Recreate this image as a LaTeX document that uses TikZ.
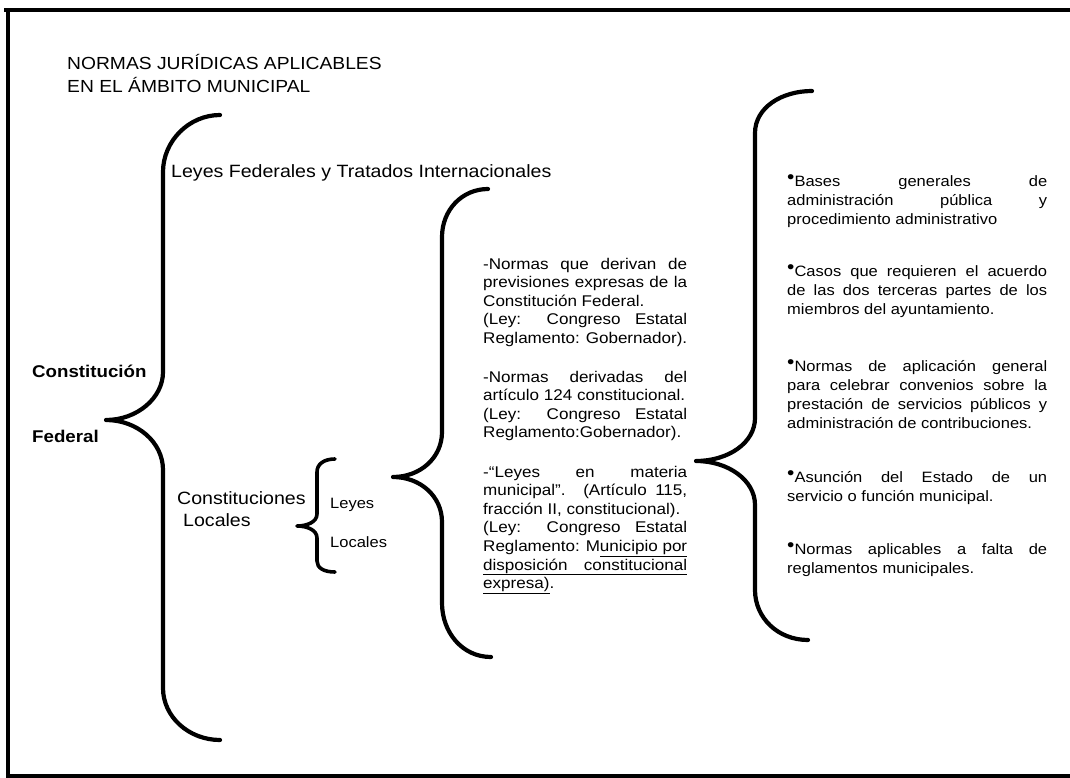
\documentclass[tikz,border=0pt]{standalone}
\usepackage{fontspec}
\setmainfont{Liberation Sans}[FakeStretch=1.1]
\newcommand{\bul}{\raisebox{2.8pt}{\fontsize{19}{19}\selectfont •}}
\begin{document}
\begin{tikzpicture}[x=1pt,y=-1pt,
  brace/.style={line width=4.2pt, line cap=round, line join=round},
  frameline/.style={line width=3.2pt},
  lbl/.style={inner sep=0pt, anchor=base west},
  tfont/.style={font=\fontsize{17.5}{23}\selectfont},
  bigfont/.style={font=\fontsize{17.8}{21}\selectfont},
  boldfont/.style={font=\fontsize{17}{20}\selectfont\bfseries},
  smallfont/.style={font=\fontsize{15}{18}\selectfont},
  midpara/.style={inner sep=0pt, anchor=base west, text width=204pt, align=justify, font=\fontsize{15.5}{18.6}\selectfont},
  rightpara/.style={inner sep=0pt, anchor=base west, text width=260pt, align=justify, font=\fontsize{15}{19}\selectfont}]
\useasboundingbox (0,0) rectangle (1070,778);
% frame
\coordinate (F1) at (4,10);
\coordinate (F2) at (1070,10);
\coordinate (F3) at (8,10);
\coordinate (F4) at (8,778);
\coordinate (F5) at (8,776);
\coordinate (F6) at (1070,776);
\draw[frameline] (F1) -- (F2);
\draw[frameline] (F3) -- (F4);
\draw[frameline] (F5) -- (F6);
% title
\node[lbl, tfont] (t1) at (67,70) {NORMAS JURÍDICAS APLICABLES};
\node[lbl, tfont] (t2) at (67,93) {EN EL ÁMBITO MUNICIPAL};
% left labels
\node[lbl, boldfont] (cons) at (32,377) {Constitución};
\node[lbl, boldfont] (fed) at (32,442) {Federal};
% big brace
\coordinate (A1) at (220,115);
\coordinate (A2) at (163,172);
\coordinate (A3) at (163,372);
\coordinate (A4) at (106,420);
\coordinate (A5) at (163,470);
\coordinate (A6) at (163,688);
\coordinate (A7) at (220,740);
\draw[brace] (A1) .. controls (189,115) and (163,141) .. (A2) -- (A3)
  .. controls (163,398) and (137,420) .. (A4)
  .. controls (137,420) and (163,442) .. (A5) -- (A6)
  .. controls (163,717) and (189,740) .. (A7);
\node[lbl, bigfont] (leyfed) at (171,178) {Leyes Federales y Tratados Internacionales};
\node[lbl, bigfont] (conloc1) at (177,504) {Constituciones};
\node[lbl, bigfont] (conloc2) at (183,526) {Locales};
% small brace
\coordinate (B1) at (335,459);
\coordinate (B2) at (317,472);
\coordinate (B3) at (317,514);
\coordinate (B4) at (297,526);
\coordinate (B5) at (317,538);
\coordinate (B6) at (317,561);
\coordinate (B7) at (335,572);
\draw[brace, line width=3.6pt] (B1) .. controls (324,459) and (317,464) .. (B2) -- (B3)
  .. controls (317,522) and (307,526) .. (B4)
  .. controls (307,526) and (317,530) .. (B5) -- (B6)
  .. controls (317,568) and (324,572) .. (B7);
\node[lbl, smallfont] (ley) at (330,508) {Leyes};
\node[lbl, smallfont] (loc) at (330,547) {Locales};
% middle brace
\coordinate (C1) at (488,189);
\coordinate (C2) at (442,237);
\coordinate (C3) at (442,432);
\coordinate (C4) at (393,477);
\coordinate (C5) at (442,522);
\coordinate (C6) at (442,603);
\coordinate (C7) at (491,657);
\draw[brace] (C1) .. controls (462,189) and (442,210) .. (C2) -- (C3)
  .. controls (442,458) and (420,477) .. (C4)
  .. controls (420,477) and (442,496) .. (C5) -- (C6)
  .. controls (442,632) and (462,657) .. (C7);
% middle paragraphs
\node[midpara] (m1) at (483,269) {-Normas que derivan de\linebreak previsiones expresas de la\linebreak Constitución Federal.\\(Ley: Congreso Estatal\linebreak Reglamento: Gobernador).};
\node[midpara] (m2) at (483,382) {-Normas derivadas del\linebreak artículo 124 constitucional.\\(Ley: Congreso Estatal\linebreak Reglamento:Gobernador).};
\node[midpara] (m3) at (483,477) {-“Leyes en materia\linebreak municipal”. (Artículo 115,\linebreak fracción II, constitucional).\\(Ley: Congreso Estatal\linebreak Reglamento: M\underline{unicipio por}\linebreak \underline{\makebox[204pt][s]{disposición constitucional}}\linebreak \underline{expresa)}.};
% right brace
\coordinate (D1) at (812,91);
\coordinate (D2) at (755,133);
\coordinate (D3) at (755,418);
\coordinate (D4) at (696,461);
\coordinate (D5) at (755,505);
\coordinate (D6) at (755,590);
\coordinate (D7) at (808,640);
\draw[brace] (D1) .. controls (781,91) and (755,108) .. (D2) -- (D3)
  .. controls (755,443) and (728,461) .. (D4)
  .. controls (728,461) and (755,480) .. (D5) -- (D6)
  .. controls (755,618) and (778,640) .. (D7);
% right paragraphs
\node[rightpara] (r1) at (787,186) {\bul Bases generales de\linebreak administración pública y\linebreak procedimiento administrativo};
\node[rightpara] (r2) at (787,276) {\bul Casos que requieren el acuerdo\linebreak de las dos terceras partes de los\linebreak miembros del ayuntamiento.};
\node[rightpara] (r3) at (787,371) {\bul Normas de aplicación general\linebreak para celebrar convenios sobre la\linebreak prestación de servicios públicos y\linebreak administración de contribuciones.};
\node[rightpara] (r4) at (787,482) {\bul Asunción del Estado de un\linebreak servicio o función municipal.};
\node[rightpara] (r5) at (787,554) {\bul Normas aplicables a falta de\linebreak reglamentos municipales.};
\end{tikzpicture}
\end{document}
